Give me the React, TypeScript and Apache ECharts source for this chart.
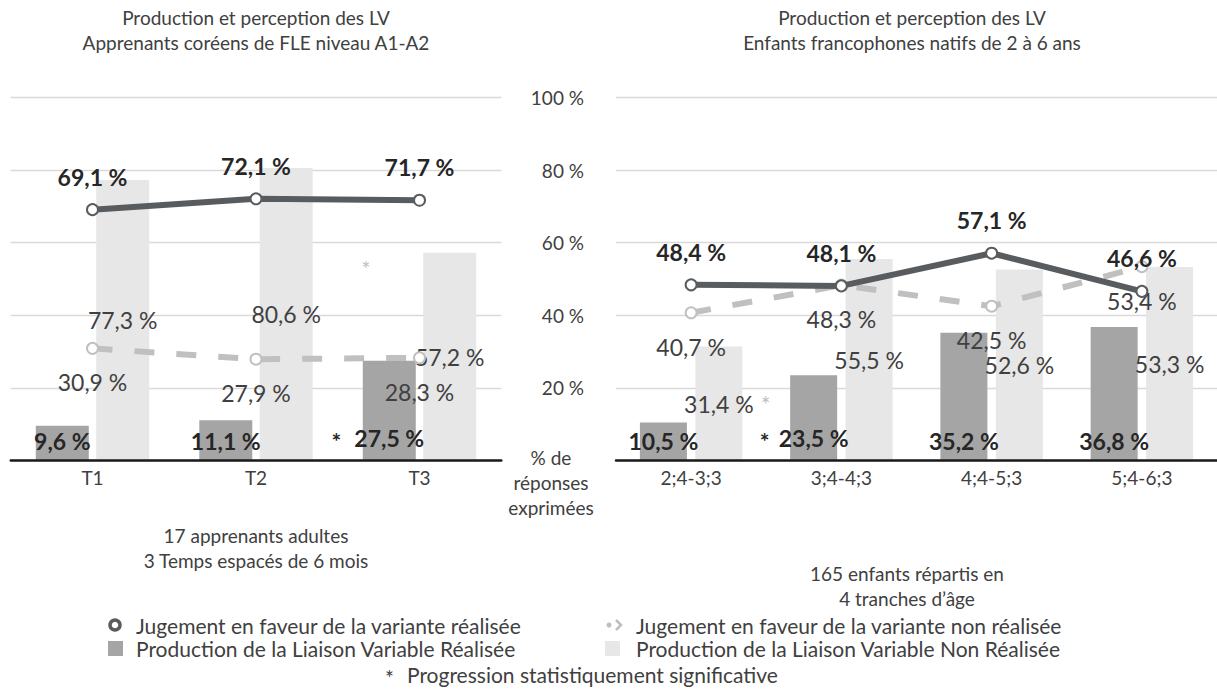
import React, { useEffect, useRef } from "react";
import * as echarts from "echarts";

const leftCats = ["T1", "T2", "T3"];
const rightCats = ["2;4-3;3", "3;4-4;3", "4;4-5;3", "5;4-6;3"];

const leftRealised = [9.6, 11.1, 27.5];
const leftNonRealised = [77.3, 80.6, 57.2];
const leftJudgeRealised = [69.1, 72.1, 71.7];
const leftJudgeNonRealised = [30.9, 27.9, 28.3];
const leftRealisedSig = [false, false, true];

const rightRealised = [10.5, 23.5, 35.2, 36.8];
const rightNonRealised = [31.4, 55.5, 52.6, 53.3];
const rightJudgeRealised = [48.4, 48.1, 57.1, 46.6];
const rightJudgeNonRealised = [40.7, 48.3, 42.5, 53.4];
const rightRealisedSig = [false, true, false, false];
const rightNonRealisedSig = [true, false, false, false];

const NAME_JR = "Jugement en faveur de la variante réalisée";
const NAME_JN = "Jugement en faveur de la variante non réalisée";
const NAME_PR = "Production de la Liaison Variable Réalisée";
const NAME_PN = "Production de la Liaison Variable Non Réalisée";

const FONT = "Lato";
const TXT = "#404040";
const BOLD = "#262626";
const DARK_BAR = "#a5a5a5";
const LIGHT_BAR = "#e7e7e7";
const DARK_LINE = "#595c5f";
const LIGHT_LINE = "#c0c0c0";
const LABEL_SIZE = 23;

const fmt = (v: number) => v.toFixed(1).replace(".", ",") + " %";

function darkBars(idx: number, values: number[], sig: boolean[], starW: number, barWidth: number, gap: string) {
  return {
    type: "bar",
    name: NAME_PR,
    xAxisIndex: idx,
    yAxisIndex: idx,
    barWidth,
    barGap: gap,
    itemStyle: { color: DARK_BAR },
    z: 2,
    label: {
      show: true,
      position: "insideBottom",
      distance: 8,
      fontFamily: FONT,
      fontSize: LABEL_SIZE,
      fontWeight: "bold",
      color: BOLD,
      formatter: (p: any) => fmt(p.value),
      rich: {
        s: { width: starW, align: "left", fontFamily: FONT, fontSize: LABEL_SIZE, fontWeight: "bold", color: BOLD, padding: [6, 0, 0, 0] },
        v: { fontFamily: FONT, fontSize: LABEL_SIZE, fontWeight: "bold", color: BOLD },
      },
    },
    data: values.map((v, i) =>
      sig[i]
        ? { value: v, label: { formatter: "{s|*}{v|" + fmt(v) + "}", offset: [-starW / 2, 0] } }
        : v
    ),
  };
}

function lightBars(idx: number, values: number[], sig: boolean[], starW: number, barWidth: number, gap: string) {
  return {
    type: "bar",
    name: NAME_PN,
    xAxisIndex: idx,
    yAxisIndex: idx,
    barWidth,
    barGap: gap,
    itemStyle: { color: LIGHT_BAR },
    z: 2,
    label: {
      show: true,
      position: "inside",
      fontFamily: FONT,
      fontSize: LABEL_SIZE,
      color: TXT,
      formatter: (p: any) => fmt(p.value),
      rich: {
        v: { fontFamily: FONT, fontSize: LABEL_SIZE, color: TXT },
        s: { width: starW, align: "right", fontFamily: FONT, fontSize: LABEL_SIZE, color: "#bfbfbf" },
      },
    },
    data: values.map((v, i) =>
      sig[i]
        ? { value: v, label: { formatter: "{v|" + fmt(v) + "}{s|*}", offset: [starW / 2, 0] } }
        : v
    ),
  };
}

function judgeRealised(idx: number, values: number[]) {
  return {
    type: "line",
    name: NAME_JR,
    xAxisIndex: idx,
    yAxisIndex: idx,
    data: values,
    z: 5,
    symbol: "emptyCircle",
    symbolSize: 11,
    lineStyle: { color: DARK_LINE, width: 6 },
    itemStyle: { color: DARK_LINE, borderColor: DARK_LINE, borderWidth: 4 },
    label: {
      show: true,
      position: "top",
      distance: 15,
      fontFamily: FONT,
      fontSize: LABEL_SIZE,
      fontWeight: "bold",
      color: BOLD,
      formatter: (p: any) => fmt(p.value),
    },
  };
}

function judgeNonRealised(idx: number, values: number[]) {
  return {
    type: "line",
    name: NAME_JN,
    xAxisIndex: idx,
    yAxisIndex: idx,
    data: values,
    z: 4,
    symbol: "emptyCircle",
    symbolSize: 11,
    lineStyle: { color: LIGHT_LINE, width: 6, type: [20, 22], cap: "butt" },
    itemStyle: { color: LIGHT_LINE, borderColor: LIGHT_LINE, borderWidth: 4 },
    label: {
      show: true,
      position: "bottom",
      distance: 16,
      fontFamily: FONT,
      fontSize: LABEL_SIZE,
      color: TXT,
      formatter: (p: any) => fmt(p.value),
    },
  };
}

const txt = (text: string, x: number, y: number, extra: any = {}) => ({
  type: "text",
  silent: true,
  style: {
    text,
    x,
    y,
    fill: TXT,
    fontFamily: FONT,
    fontSize: 19,
    lineHeight: 25,
    align: "left",
    verticalAlign: "middle",
    ...extra,
  },
});

const LEG = { fontSize: 21 };

export default function App() {
  const ref = useRef<HTMLDivElement>(null);
  useEffect(() => {
    if (!ref.current) return;
    const chart = echarts.init(ref.current, undefined, { renderer: "svg" });
    const gridTop = 97.5;
    const gridH = 363;
    const option: any = {
      animation: false,
      backgroundColor: "#ffffff",
      textStyle: { fontFamily: FONT },
      grid: [
        { left: 10.75, top: gridTop, width: 490.5, height: gridH },
        { left: 616, top: gridTop, width: 608, height: gridH },
      ],
      xAxis: [0, 1].map((i) => ({
        type: "category",
        gridIndex: i,
        data: i === 0 ? leftCats : rightCats,
        axisTick: { show: false },
        axisLine: { lineStyle: { color: "#1a1a1a", width: 2.5 } },
        axisLabel: { color: TXT, fontFamily: FONT, fontSize: 19, margin: 7 },
        z: 10,
      })),
      yAxis: [0, 1].map((i) => ({
        type: "value",
        gridIndex: i,
        min: 0,
        max: 100,
        interval: 20,
        axisLine: { show: false },
        axisTick: { show: false },
        splitLine: { lineStyle: { color: "#d9d9d9", width: 1.3 } },
        axisLabel: {
          show: i === 1,
          color: TXT,
          fontFamily: FONT,
          fontSize: 19,
          margin: 32,
          formatter: (v: number) => (v === 0 ? "" : v + " %"),
        },
      })),
      series: [
        darkBars(0, leftRealised, leftRealisedSig, 23, 53, "14%"),
        lightBars(0, leftNonRealised, [false, false, false], 17, 53, "14%"),
        judgeNonRealised(0, leftJudgeNonRealised),
        judgeRealised(0, leftJudgeRealised),
        darkBars(1, rightRealised, rightRealisedSig, 19, 47, "18%"),
        lightBars(1, rightNonRealised, rightNonRealisedSig, 17, 47, "18%"),
        judgeNonRealised(1, rightJudgeNonRealised),
        judgeRealised(1, rightJudgeRealised),
      ],
      graphic: [
        txt("Production et perception des LV\nApprenants coréens de FLE niveau A1-A2", 256, 29.5, { align: "center" }),
        txt("Production et perception des LV\nEnfants francophones natifs de 2 à 6 ans", 912, 29.5, { align: "center" }),
        txt("17 apprenants adultes\n3 Temps espacés de 6 mois", 256, 547.5, { align: "center" }),
        txt("165 enfants répartis en\n4 tranches d’âge", 907, 586, { align: "center" }),
        txt("% de\nréponses\nexprimées", 551, 482, { align: "center", fontSize: 19 }),
        txt("*", 366, 268, { align: "center", fill: "#bfbfbf", fontSize: 22 }),
        // legend
        {
          type: "circle",
          silent: true,
          shape: { cx: 115, cy: 625, r: 5 },
          style: { fill: "#ffffff", stroke: DARK_LINE, lineWidth: 3.5 },
        },
        txt(NAME_JR, 136, 625, LEG),
        { type: "rect", silent: true, shape: { x: 108, y: 641, width: 15, height: 15 }, style: { fill: DARK_BAR } },
        txt(NAME_PR, 136, 648, LEG),
        { type: "circle", silent: true, shape: { cx: 609, cy: 625, r: 2.5 }, style: { fill: "#bfbfbf" } },
        {
          type: "polyline",
          silent: true,
          shape: { points: [[616, 620], [621, 625], [616, 630]] },
          style: { stroke: "#bfbfbf", lineWidth: 2.5, fill: "none" },
        },
        txt(NAME_JN, 636, 625, LEG),
        { type: "rect", silent: true, shape: { x: 605, y: 641, width: 15, height: 15 }, style: { fill: LIGHT_BAR } },
        txt(NAME_PN, 636, 648, LEG),
        txt("*", 385, 677, { fontSize: 21 }),
        txt("Progression statistiquement significative", 407, 674, LEG),
      ],
    };
    chart.setOption(option);
    return () => chart.dispose();
  }, []);
  return (
    <div
      ref={ref}
      style={{ position: "fixed", left: 0, top: 0, width: 1217, height: 700, background: "#fff" }}
    />
  );
}
